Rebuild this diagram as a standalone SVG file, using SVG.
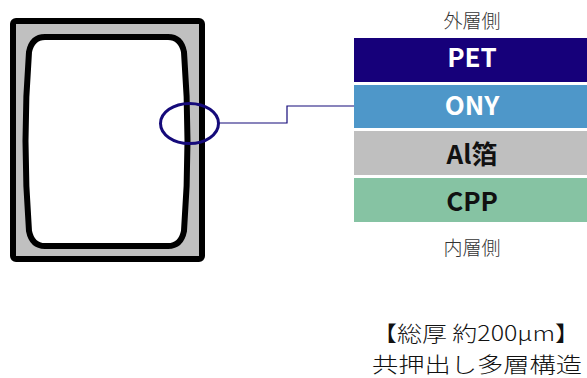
<svg xmlns="http://www.w3.org/2000/svg" width="587" height="378" viewBox="0 0 587 378">
<style>
text{font-family:"Noto Sans CJK JP","Noto Sans",sans-serif}
.lbl{font-size:26px;font-weight:bold;text-anchor:middle}
.side{font-size:19px;fill:#333;text-anchor:middle;font-weight:300}
.note{font-size:21px;fill:#111;text-anchor:middle;font-weight:300}
</style>
<g id="package">
<rect x="13" y="21" width="189" height="238" rx="3" fill="#c0c0c0" stroke="#000" stroke-width="6"/>
<path d="M45 37 L168 37 Q181 37 184 52 Q191 141 184 231 Q181 246 168 246 L45 246 Q32 246 29 231 Q22 141 29 52 Q32 37 45 37 Z" fill="#fff" stroke="#000" stroke-width="6"/>
</g>
<g id="magnifier">
<ellipse cx="189.5" cy="123.5" rx="29" ry="20" fill="none" stroke="#150a7a" stroke-width="3"/>
</g>
<g id="connectors">
<polyline points="219,123 287,123 287,106 354,106" fill="none" stroke="#150a7a" stroke-width="1.2"/>
</g>
<g id="outer-label"><text class="side" x="472" y="28">外層側</text></g>
<g id="layer-pet"><rect x="354" y="38" width="233" height="44" fill="#16007a"/><text class="lbl" x="472" y="67" fill="#fff">PET</text></g>
<g id="layer-ony"><rect x="354" y="85" width="233" height="43" fill="#4e97c9"/><text class="lbl" x="472" y="115" fill="#fff">ONY</text></g>
<g id="layer-al"><rect x="354" y="131" width="233" height="44" fill="#bfbfbf"/><text class="lbl" x="472" y="164" fill="#111">Al箔</text></g>
<g id="layer-cpp"><rect x="354" y="178" width="233" height="44" fill="#86c3a3"/><text class="lbl" x="472" y="211" fill="#111">CPP</text></g>
<g id="inner-label"><text class="side" x="472" y="255">内層側</text></g>
<g id="note">
<text class="note" x="476" y="341" textLength="208" lengthAdjust="spacingAndGlyphs">【総厚 約200μm】</text>
<text class="note" x="477" y="372" textLength="210" lengthAdjust="spacingAndGlyphs">共押出し多層構造</text>
</g>
</svg>
